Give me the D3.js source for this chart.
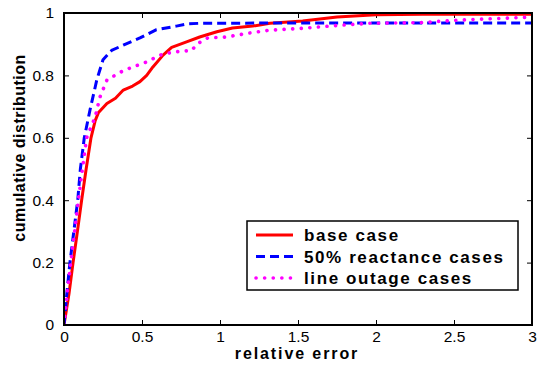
<!DOCTYPE html>
<html lang="en">
<head>
<meta charset="UTF-8">
<title>Cumulative distribution of relative error</title>
<script src="https://d3js.org/d3.v7.min.js"></script>
<style>
    body { margin: 0; background: #fff; }
    svg { display: block; font-family: Arial, "Liberation Sans", sans-serif; }
</style>
</head>
<body>
<svg id="chart" width="539" height="365"></svg>
<script>
// values
const baseX = [0, 0.032, 0.058, 0.086, 0.113, 0.142, 0.173, 0.2, 0.22, 0.275, 0.33, 0.38, 0.44, 0.487, 0.53, 0.57, 0.635, 0.69, 0.79, 0.87, 0.98, 1.08, 1.21, 1.32, 1.53, 1.75, 2.0, 2.3, 3.0];
const baseY = [0, 0.1, 0.2, 0.3, 0.4, 0.5, 0.6, 0.655, 0.68, 0.71, 0.727, 0.753, 0.766, 0.78, 0.80, 0.827, 0.865, 0.89, 0.908, 0.923, 0.94, 0.952, 0.958, 0.967, 0.974, 0.987, 0.994, 0.996, 0.996];

const reactX = [0, 0.018, 0.038, 0.063, 0.088, 0.105, 0.13, 0.167, 0.21, 0.25, 0.305, 0.38, 0.487, 0.59, 0.72, 0.79, 0.87, 1.5, 2.2, 3.0];
const reactY = [0, 0.1, 0.2, 0.3, 0.4, 0.5, 0.6, 0.69, 0.785, 0.85, 0.88, 0.897, 0.92, 0.946, 0.958, 0.965, 0.967, 0.968, 0.968, 0.968];

const outageX = [0, 0.02, 0.043, 0.068, 0.092, 0.118, 0.145, 0.2, 0.23, 0.275, 0.36, 0.44, 0.53, 0.615, 0.7, 0.82, 0.85, 0.92, 1.04, 1.19, 1.32, 1.53, 1.75, 1.96, 2.28, 2.52, 2.81, 3.0];
const outageY = [0, 0.1, 0.2, 0.3, 0.4, 0.5, 0.6, 0.667, 0.73, 0.785, 0.81, 0.827, 0.843, 0.865, 0.875, 0.88, 0.9, 0.92, 0.923, 0.936, 0.945, 0.951, 0.96, 0.967, 0.969, 0.977, 0.983, 0.987];

const seriesNames = ["base case", "50% reactance cases", "line outage cases"];
const xTicks = [0, 0.5, 1, 1.5, 2, 2.5, 3];
const yTicks = [0, 0.2, 0.4, 0.6, 0.8, 1];

const svg = d3.select("#chart");
const pLeft = 64, pRight = 532, pTop = 13, pBottom = 325;

const x = d3.scaleLinear().domain([0, 3]).range([pLeft, pRight]);
const y = d3.scaleLinear().domain([0, 1]).range([pBottom, pTop]);

const styles = [
    { color: "#ff0000", dash: null, cap: "butt" },
    { color: "#0000ff", dash: "9,5", cap: "butt" },
    { color: "#ff00ff", dash: "0.1,8.5", cap: "round" }
];

const series = [
    d3.zip(baseX, baseY),
    d3.zip(reactX, reactY),
    d3.zip(outageX, outageY)
];

const line = d3.line().x(d => x(d[0])).y(d => y(d[1]));

// clip so curves stay inside box
svg.append("clipPath").attr("id", "clip")
    .append("rect").attr("x", pLeft).attr("y", pTop - 2)
    .attr("width", pRight - pLeft).attr("height", pBottom - pTop + 2);

const fmt = d => d === 0 ? "0" : String(d);

// axes (ticks pointing inward, MATLAB style)
const axisStyle = g => {
    g.select(".domain").remove();
    g.selectAll("line").attr("stroke", "#000").attr("stroke-width", 1);
    g.selectAll("text").attr("fill", "#000").style("font-size", "15.5px");
};

svg.append("g").attr("transform", `translate(0,${pBottom})`)
    .call(d3.axisBottom(x).tickValues(xTicks).tickFormat(fmt).tickSizeInner(-5).tickSizeOuter(0).tickPadding(6))
    .call(axisStyle);
svg.append("g").attr("transform", `translate(0,${pTop})`)
    .call(d3.axisTop(x).tickValues(xTicks).tickFormat("").tickSizeInner(-5).tickSizeOuter(0))
    .call(axisStyle);
svg.append("g").attr("transform", `translate(${pLeft},0)`)
    .call(d3.axisLeft(y).tickValues(yTicks).tickFormat(fmt).tickSizeInner(-5).tickSizeOuter(0).tickPadding(10))
    .call(axisStyle);
svg.append("g").attr("transform", `translate(${pRight},0)`)
    .call(d3.axisRight(y).tickValues(yTicks).tickFormat("").tickSizeInner(-5).tickSizeOuter(0))
    .call(axisStyle);

svg.append("g").attr("clip-path", "url(#clip)")
    .selectAll("path")
    .data(series)
    .join("path")
    .attr("d", line)
    .attr("fill", "none")
    .attr("stroke", (d, i) => styles[i].color)
    .attr("stroke-width", (d, i) => i === 2 ? 3.6 : 3)
    .attr("stroke-dasharray", (d, i) => styles[i].dash)
    .attr("stroke-linecap", (d, i) => styles[i].cap)
    .attr("stroke-linejoin", "round");

// box
svg.append("rect")
    .attr("x", pLeft).attr("y", pTop)
    .attr("width", pRight - pLeft).attr("height", pBottom - pTop)
    .attr("fill", "none").attr("stroke", "#000").attr("stroke-width", 2);

// axis titles
svg.append("text")
    .attr("x", 297).attr("y", 359)
    .attr("text-anchor", "middle")
    .style("font-size", "16px").style("font-weight", "bold").style("letter-spacing", "1.9px")
    .text("relative error");

svg.append("text")
    .attr("transform", "translate(25,148) rotate(-90)")
    .attr("text-anchor", "middle")
    .style("font-size", "16px").style("font-weight", "bold").style("letter-spacing", "0.5px")
    .text("cumulative distribution");

// legend
const lg = svg.append("g");
lg.append("rect")
    .attr("x", 247).attr("y", 221).attr("width", 271).attr("height", 69)
    .attr("fill", "#fff").attr("stroke", "#000").attr("stroke-width", 1.5);

const rows = lg.selectAll("g.row")
    .data(seriesNames)
    .join("g")
    .attr("class", "row")
    .attr("transform", (d, i) => `translate(0,${235 + i * 21.5})`);

rows.append("line")
    .attr("x1", 256).attr("x2", 293)
    .attr("stroke", (d, i) => styles[i].color)
    .attr("stroke-width", (d, i) => i === 2 ? 3.6 : 3)
    .attr("stroke-dasharray", (d, i) => styles[i].dash)
    .attr("stroke-linecap", (d, i) => styles[i].cap);

rows.append("text")
    .attr("x", 304).attr("dy", "0.36em")
    .style("font-size", "17px").style("font-weight", "bold").style("letter-spacing", "1.6px")
    .text(d => d);
</script>
</body>
</html>
